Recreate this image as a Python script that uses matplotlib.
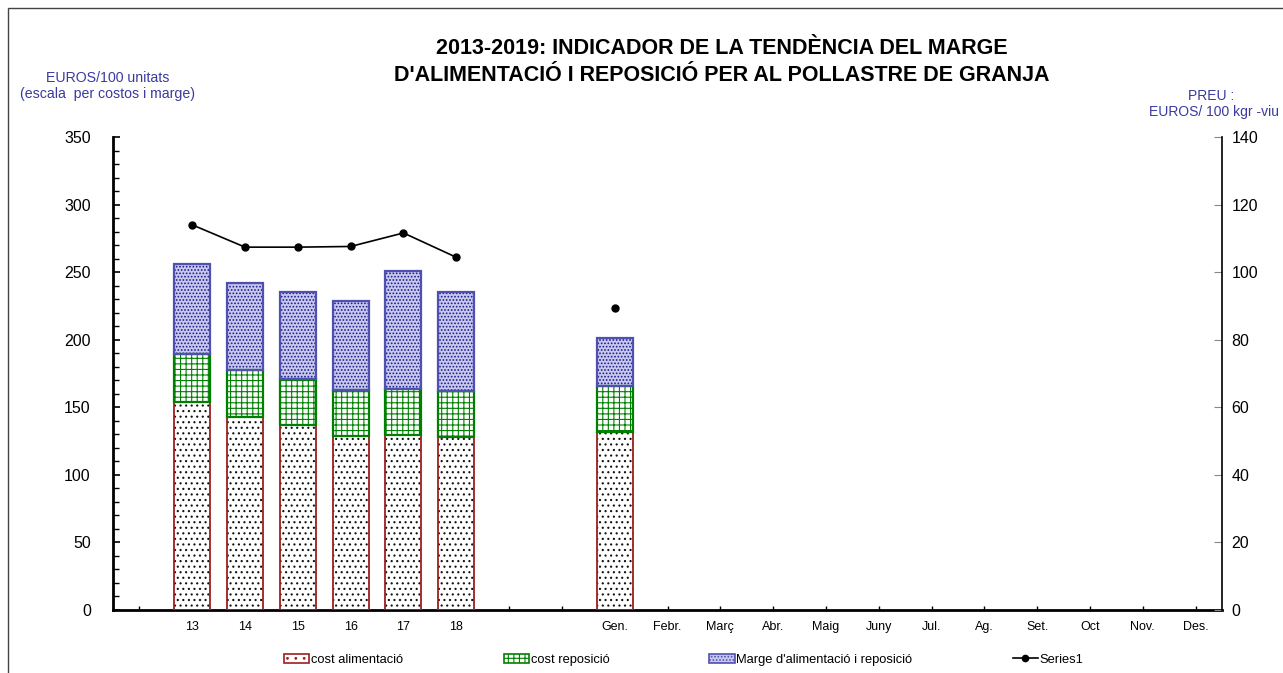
import numpy as np
import matplotlib
matplotlib.use("Agg")
import matplotlib.pyplot as plt
from matplotlib.patches import Rectangle, Patch
from matplotlib.lines import Line2D

plt.rcParams['font.family'] = ['Liberation Sans', 'DejaVu Sans']
plt.rcParams['hatch.linewidth'] = 0.8

nan = np.nan
categories = ["", "13", "14", "15", "16", "17", "18", "", "", "Gen.", "Febr.", "Març",
              "Abr.", "Maig", "Juny", "Jul.", "Ag.", "Set.", "Oct", "Nov.", "Des."]
cost_alimentacio = [nan, 154, 142.8, 137, 128.5, 129.5, 128, nan, nan, 131.7] + [nan] * 11
cost_reposicio = [nan, 35.4, 34.8, 34, 34.3, 34, 34, nan, nan, 34.1] + [nan] * 11
marge = [nan, 66.6, 64.4, 64.3, 65.8, 87.5, 73, nan, nan, 35.5] + [nan] * 11
series1 = [nan, 114, 107.4, 107.4, 107.6, 111.6, 104.4, nan, nan, 89.3] + [nan] * 11

W, H = 1283, 673
fig = plt.figure(figsize=(W / 100, H / 100), dpi=100)
ax = fig.add_axes([113 / W, 1 - 610 / H, (1222 - 113) / W, (610 - 137) / H])

x = np.arange(len(categories))
a = np.array(cost_alimentacio, dtype=float)
r = np.array(cost_reposicio, dtype=float)
m = np.array(marge, dtype=float)
mask = ~np.isnan(a)
xb = x[mask]
bw = 0.68

red_edge = '#9B2020'
green = '#008000'
blue_h = '#1A1A8A'
blue_face = '#C8C8EE'
blue_edge = '#5050B0'

# hatches (hatch colour = edgecolor), then borders
ax.bar(xb, a[mask], bw, facecolor='white', edgecolor='#111111', hatch='...', linewidth=0, zorder=2)
ax.bar(xb, a[mask], bw, fill=False, edgecolor=red_edge, linewidth=1.3, zorder=3)
ax.bar(xb, r[mask], bw, bottom=a[mask], facecolor='white', edgecolor=green, hatch='+++', linewidth=0, zorder=2)
ax.bar(xb, r[mask], bw, bottom=a[mask], fill=False, edgecolor=green, linewidth=1.6, zorder=3)
ax.bar(xb, m[mask], bw, bottom=(a + r)[mask], facecolor=blue_face, edgecolor=blue_h, hatch='.....', linewidth=0, zorder=2)
ax.bar(xb, m[mask], bw, bottom=(a + r)[mask], fill=False, edgecolor=blue_edge, linewidth=1.6, zorder=3)

ax.set_xlim(-0.5, len(categories) - 0.5)
ax.set_ylim(0, 350)
ax.set_yticks(np.arange(0, 351, 50))
ax.set_yticks(np.arange(0, 351, 10), minor=True)
ax.set_xticks(x)
ax.set_xticklabels(categories, fontsize=9)
ax.tick_params(axis='y', which='major', direction='in', length=5, width=1.2, labelsize=11.5, pad=16)
ax.tick_params(axis='y', which='minor', direction='in', length=4, width=1)
ax.tick_params(axis='x', direction='in', length=3, width=1, pad=8)
ax.spines['left'].set_linewidth(2)
ax.spines['bottom'].set_linewidth(2)
ax.spines['top'].set_visible(False)
ax.spines['right'].set_visible(False)

ax2 = ax.twinx()
ax2.plot(x, series1, color='black', lw=1.2, marker='o', markersize=5, zorder=5)
ax2.set_ylim(0, 140)
ax2.set_yticks(np.arange(0, 141, 20))
ax2.tick_params(axis='y', direction='in', length=6, color='#888888', labelsize=11.5, pad=7)
for s in ['top', 'left', 'bottom']:
    ax2.spines[s].set_visible(False)
ax2.spines['right'].set_linewidth(1.2)

fig.text(722 / W, 1 - 62 / H, "2013-2019: INDICADOR DE LA TENDÈNCIA DEL MARGE\nD'ALIMENTACIÓ I REPOSICIÓ PER AL POLLASTRE DE GRANJA",
         ha='center', va='center', fontsize=15.5, fontweight='bold', linespacing=1.35)
lab_col = '#3A3AA0'
fig.text(108 / W, 1 - 86 / H, "EUROS/100 unitats\n(escala  per costos i marge)", ha='center', va='center',
         fontsize=10.2, color=lab_col, linespacing=1.2)
fig.text(1211 / W, 1 - 96 / H, "PREU :", ha='center', va='center', fontsize=10, color=lab_col)
fig.text(1214 / W, 1 - 112 / H, "EUROS/ 100 kgr -viu", ha='center', va='center', fontsize=10, color=lab_col)

handles = [
    Patch(facecolor='white', edgecolor=red_edge, hatch='..', linewidth=1.2),
    Patch(facecolor='white', edgecolor=green, hatch='+++', linewidth=1.2),
    Patch(facecolor=blue_face, edgecolor=blue_edge, hatch='.....', linewidth=1.2),
    Line2D([], [], color='black', marker='o', markersize=4.5, lw=1.2),
]
labels = ["cost alimentació", "cost reposició", "Marge d'alimentació i reposició", "Series1"]
fig.legend(handles, labels, loc='center', bbox_to_anchor=(684 / W, 1 - 660 / H), ncol=4, frameon=False,
           fontsize=9.3, columnspacing=7.75, handlelength=1.94, handletextpad=0.15, handleheight=0.7)

fig.patches.append(Rectangle((8 / W, -0.1), 1.2, 1 - 8 / H + 0.1, transform=fig.transFigure,
                             fill=False, edgecolor='#444444', linewidth=1))

fig.savefig("out.png", dpi=100)
